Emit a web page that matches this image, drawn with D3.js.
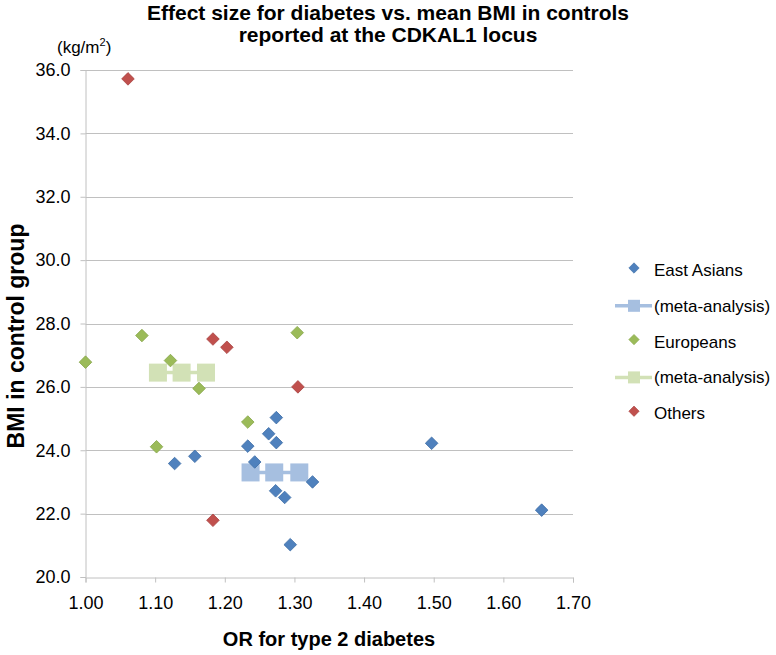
<!DOCTYPE html>
<html><head><meta charset="utf-8">
<script src="https://cdn.jsdelivr.net/npm/d3@7/dist/d3.min.js"></script>
<style>
html,body{margin:0;padding:0;background:#fff;}
svg{display:block;font-family:"Liberation Sans",Arial,sans-serif;}
</style></head>
<body><svg id="chart" width="776" height="655"></svg>
<script>
const titleLines = ["Effect size for diabetes vs. mean BMI in controls", "reported at the CDKAL1 locus"];
const xTicks = [1.00, 1.10, 1.20, 1.30, 1.40, 1.50, 1.60, 1.70];
const yTicks = [20, 22, 24, 26, 28, 30, 32, 34, 36];

const eastAsianOR  = [1.274, 1.263, 1.274, 1.233, 1.157, 1.128, 1.243, 1.326, 1.273, 1.286, 1.294, 1.497, 1.655];
const eastAsianBMI = [25.03, 24.52, 24.24, 24.13, 23.81, 23.58, 23.63, 23.00, 22.72, 22.51, 21.02, 24.22, 22.11];
const eastMetaOR   = [1.237, 1.271, 1.307];
const eastMetaBMI  = [23.30, 23.30, 23.30];
const europeanOR   = [1.000, 1.081, 1.122, 1.163, 1.304, 1.233, 1.102];
const europeanBMI  = [26.78, 27.62, 26.83, 25.95, 27.71, 24.89, 24.11];
const euroMetaOR   = [1.104, 1.138, 1.173];
const euroMetaBMI  = [26.45, 26.45, 26.45];
const othersOR     = [1.061, 1.183, 1.203, 1.305, 1.183];
const othersBMI    = [35.72, 27.51, 27.25, 26.00, 21.79];

const legendLabels = ["East Asians", "(meta-analysis)", "Europeans", "(meta-analysis)", "Others"];

const C = {
  blue: "#4F81BD", blueStroke: "#3D6DA6",
  blueMeta: "#A6BFE0",
  green: "#9BBB59", greenStroke: "#86A649",
  greenMeta: "#D2E1B6",
  red: "#C0504D", redStroke: "#A84341",
  grid: "#C0C0C0"
};

const svg = d3.select("#chart");
const x = d3.scaleLinear().domain([1.0, 1.7]).range([85.5, 573]);
const y = d3.scaleLinear().domain([20, 36]).range([577, 70]);

// title
svg.append("g").selectAll("text").data(titleLines).join("text")
  .attr("x", 388).attr("y", (d, i) => 20 + i * 21.5)
  .attr("text-anchor", "middle").attr("font-size", 21).attr("font-weight", "bold")
  .attr("fill", "#000").text(d => d);

// gridlines
svg.append("g").selectAll("line").data(yTicks.filter(t => t > 20)).join("line")
  .attr("x1", x(1.0)).attr("x2", x(1.7))
  .attr("y1", d => Math.round(y(d)) + 0.5).attr("y2", d => Math.round(y(d)) + 0.5)
  .attr("stroke", C.grid).attr("stroke-width", 1);

// axes
const xAxis = svg.append("g").attr("transform", `translate(0,${Math.round(y(20)) + 0.5})`)
  .call(d3.axisBottom(x).tickValues(xTicks).tickFormat(d3.format(".2f")).tickSize(5).tickPadding(14));
const yAxis = svg.append("g").attr("transform", `translate(${x(1.0)},0)`)
  .call(d3.axisLeft(y).tickValues(yTicks).tickFormat(d3.format(".1f")).tickSize(5).tickPadding(10));
[xAxis, yAxis].forEach(a => {
  a.select(".domain").attr("stroke", C.grid);
  a.selectAll(".tick line").attr("stroke", C.grid);
  a.selectAll(".tick text").attr("font-size", 18).attr("fill", "#000")
    .attr("font-family", "'Liberation Sans', Arial, sans-serif");
});

// axis titles
svg.append("text").attr("x", 329).attr("y", 646).attr("text-anchor", "middle")
  .attr("font-size", 20).attr("font-weight", "bold").text("OR for type 2 diabetes");
svg.append("text").attr("transform", "translate(24,336) rotate(-90)").attr("text-anchor", "middle")
  .attr("font-size", 23).attr("font-weight", "bold").text("BMI in control group");
const unit = svg.append("text").attr("x", 57).attr("y", 53).attr("font-size", 17);
unit.append("tspan").text("(kg/m");
unit.append("tspan").attr("font-size", 11).attr("dy", -7).text("2");
unit.append("tspan").attr("dy", 7).text(")");

// meta-analysis series
function drawMeta(ors, bmis, color) {
  const pts = ors.map((o, i) => [x(o), y(bmis[i])]);
  const g = svg.append("g");
  g.append("path").attr("d", d3.line()(pts)).attr("stroke", color).attr("stroke-width", 3.5).attr("fill", "none");
  g.selectAll("rect").data(pts).join("rect")
    .attr("x", d => d[0] - 9).attr("y", d => d[1] - 9).attr("width", 18).attr("height", 18)
    .attr("fill", color);
}
drawMeta(eastMetaOR, eastMetaBMI, C.blueMeta);
drawMeta(euroMetaOR, euroMetaBMI, C.greenMeta);

// diamonds
const diamond = r => `M0,${-r}L${r},0L0,${r}L${-r},0Z`;
function drawDiamonds(ors, bmis, fill, stroke) {
  svg.append("g").selectAll("path").data(ors.map((o, i) => [o, bmis[i]])).join("path")
    .attr("transform", d => `translate(${x(d[0])},${y(d[1])})`)
    .attr("d", diamond(6.3)).attr("fill", fill).attr("stroke", stroke).attr("stroke-width", 0.8);
}
drawDiamonds(eastAsianOR, eastAsianBMI, C.blue, C.blueStroke);
drawDiamonds(europeanOR, europeanBMI, C.green, C.greenStroke);
drawDiamonds(othersOR, othersBMI, C.red, C.redStroke);

// legend
const legendKinds = [
  {type: "d", fill: C.blue, stroke: C.blueStroke},
  {type: "m", fill: C.blueMeta},
  {type: "d", fill: C.green, stroke: C.greenStroke},
  {type: "m", fill: C.greenMeta},
  {type: "d", fill: C.red, stroke: C.redStroke}
];
const lg = svg.append("g");
legendLabels.forEach((lab, i) => {
  const cy = 270 + i * 35.8;
  const k = legendKinds[i];
  if (k.type === "d") {
    lg.append("path").attr("transform", `translate(634,${cy - 2})`).attr("d", diamond(5.2))
      .attr("fill", k.fill).attr("stroke", k.stroke).attr("stroke-width", 0.6);
  } else {
    lg.append("line").attr("x1", 615).attr("x2", 652).attr("y1", cy).attr("y2", cy)
      .attr("stroke", k.fill).attr("stroke-width", 3.5);
    lg.append("rect").attr("x", 628).attr("y", cy - 6).attr("width", 12).attr("height", 12).attr("fill", k.fill);
  }
  lg.append("text").attr("x", 654).attr("y", cy + 6).attr("font-size", 17).attr("fill", "#000").text(lab);
});
</script></body></html>
